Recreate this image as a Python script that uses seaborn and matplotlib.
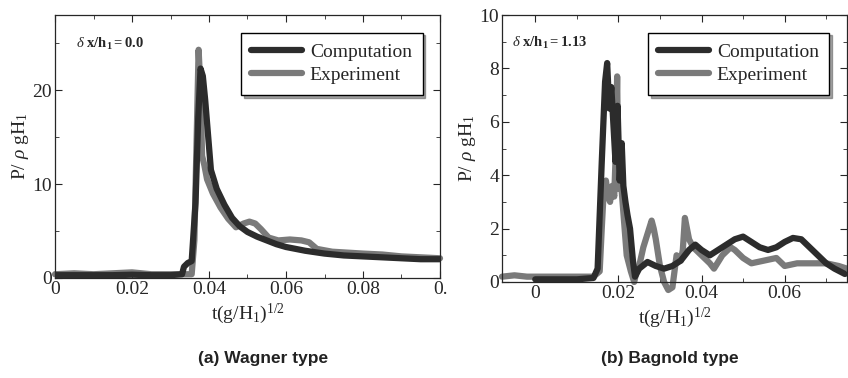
import matplotlib
matplotlib.use("Agg")
import matplotlib.pyplot as plt
import numpy as np
import pandas as pd
import seaborn as sns

# (a) Wagner type
wag_comp_t = [0, 0.005, 0.01, 0.015, 0.02, 0.025, 0.03, 0.033, 0.0335, 0.0345, 0.0355,
              0.0365, 0.0372, 0.0378, 0.0384, 0.039, 0.0398, 0.0405, 0.042, 0.044, 0.046,
              0.048, 0.05, 0.0525, 0.055, 0.0575, 0.06, 0.065, 0.07, 0.075, 0.08, 0.085,
              0.09, 0.095, 0.1]
wag_comp_p = [0.3, 0.3, 0.3, 0.3, 0.35, 0.3, 0.3, 0.4, 1.2, 1.6, 1.8,
              8, 17, 22.3, 21.5, 19, 15, 11.5, 9.5, 7.8, 6.4,
              5.5, 4.9, 4.4, 4.0, 3.6, 3.3, 2.9, 2.6, 2.4, 2.3, 2.2,
              2.1, 2.0, 2.0]
wag_exp_t = [0, 0.005, 0.01, 0.015, 0.02, 0.025, 0.03, 0.0355, 0.0362, 0.0368, 0.0373,
             0.0378, 0.0382, 0.0388, 0.0395, 0.041, 0.043, 0.045, 0.047, 0.049, 0.0505,
             0.052, 0.0535, 0.0555, 0.058, 0.061, 0.064, 0.066, 0.068, 0.072, 0.076,
             0.08, 0.085, 0.09, 0.095, 0.1]
wag_exp_p = [0.4, 0.5, 0.4, 0.5, 0.6, 0.4, 0.4, 0.4, 4, 15, 24.3,
             20, 13, 12, 10.5, 9, 7.5, 6.3, 5.4, 5.8, 6.0,
             5.8, 5.2, 4.3, 4.0, 4.1, 4.0, 3.8, 3.1, 2.8, 2.7,
             2.6, 2.5, 2.3, 2.2, 2.1]

# (b) Bagnold type
bag_comp_t = [0, 0.005, 0.01, 0.014, 0.015, 0.016, 0.0168, 0.0173, 0.0178, 0.0183, 0.0188,
              0.0193, 0.0198, 0.0203, 0.0208, 0.0212, 0.0217, 0.0222, 0.0228, 0.0235, 0.024,
              0.025, 0.027, 0.029, 0.031, 0.033, 0.035, 0.037, 0.0385, 0.040, 0.042, 0.044,
              0.046, 0.048, 0.050, 0.052, 0.054, 0.056, 0.058, 0.060, 0.062, 0.064, 0.066,
              0.068, 0.070, 0.072, 0.0745]
bag_comp_p = [0.1, 0.1, 0.1, 0.15, 0.5, 4.5, 7.5, 8.2, 6.5, 7.3, 5.9,
              4.5, 6.6, 3.8, 5.2, 3.6, 3.0, 2.5, 2.0, 0.8, 0.2,
              0.5, 0.75, 0.6, 0.5, 0.6, 0.8, 1.2, 1.4, 1.2, 1.0, 1.2,
              1.4, 1.6, 1.7, 1.5, 1.3, 1.2, 1.3, 1.5, 1.65, 1.6, 1.3,
              1.0, 0.7, 0.5, 0.3]
bag_exp_t = [-0.008, -0.005, -0.002, 0.002, 0.006, 0.010, 0.014, 0.0155, 0.016, 0.0165,
             0.017, 0.0175, 0.018, 0.0185, 0.019, 0.0194, 0.0197, 0.020, 0.0205, 0.021,
             0.0215, 0.022, 0.023, 0.0238, 0.0245, 0.025, 0.026, 0.027, 0.028, 0.0285,
             0.029, 0.030, 0.031, 0.032, 0.033, 0.034, 0.035, 0.0355, 0.036, 0.037, 0.038,
             0.040, 0.042, 0.043, 0.045, 0.047, 0.048, 0.050, 0.052, 0.055, 0.058, 0.060,
             0.063, 0.066, 0.070, 0.073, 0.075]
bag_exp_p = [0.2, 0.25, 0.2, 0.2, 0.2, 0.2, 0.2, 0.4, 2.0, 3.5,
             3.8, 3.2, 3.0, 3.6, 3.2, 5.0, 7.7, 3.5, 4.0, 3.0,
             2.0, 1.0, 0.4, 0.0, 0.5, 0.6, 1.3, 1.8, 2.3, 2.0,
             1.6, 0.6, 0.0, -0.3, -0.2, 1.0, 0.8, 1.2, 2.4, 1.6, 1.3,
             1.0, 0.7, 0.5, 1.0, 1.3, 1.2, 0.9, 0.7, 0.8, 0.9, 0.6,
             0.7, 0.7, 0.7, 0.6, 0.5]

sns.set_style("ticks")
plt.rcParams["font.family"] = ["Liberation Serif", "DejaVu Serif"]
plt.rcParams["mathtext.fontset"] = "custom"
plt.rcParams["mathtext.rm"] = "Liberation Serif"
plt.rcParams["mathtext.it"] = "Liberation Serif:italic"
plt.rcParams["mathtext.bf"] = "Liberation Serif:bold"

DARK = "#2c2c2c"
GRAY = "#7a7a7a"

fig = plt.figure(figsize=(8.48, 3.78), dpi=100)
ax_a = fig.add_axes([55 / 848, 1 - 278 / 378, 385 / 848, 263 / 378])
ax_b = fig.add_axes([502 / 848, 1 - 282 / 378, 345 / 848, 267 / 378])


def draw(ax, ct, cp, et, ep):
    sns.lineplot(x=et, y=ep, ax=ax, color=GRAY, lw=4.5, label="Experiment",
                 estimator=None, sort=False, zorder=2, clip_on=False)
    sns.lineplot(x=ct, y=cp, ax=ax, color=DARK, lw=4.5, label="Computation",
                 estimator=None, sort=False, zorder=3)
    h, l = ax.get_legend_handles_labels()
    leg = ax.legend(h[::-1], l[::-1], loc="upper right", fontsize=14, frameon=True,
                    fancybox=False, shadow=True, handlelength=2.6, borderpad=0.55,
                    labelspacing=0.3, handletextpad=0.4, borderaxespad=0.9)
    leg.get_frame().set_edgecolor("black")
    leg.get_frame().set_linewidth(1.0)
    ax.tick_params(which="both", direction="in", top=True, right=True,
                   labelsize=14, pad=2)
    ax.tick_params(which="major", length=5)
    ax.tick_params(which="minor", length=3)
    ax.set_xlabel(r"t(g/H$_1$)$^{1/2}$", fontsize=14, labelpad=3)
    ax.set_ylabel(r"P/ $\rho$ gH$_1$", fontsize=14, labelpad=1)
    for s in ax.spines.values():
        s.set_linewidth(0.9)


draw(ax_a, wag_comp_t, wag_comp_p, wag_exp_t, wag_exp_p)
ax_a.set_xlim(0, 0.1)
ax_a.set_ylim(0, 28)
ax_a.set_xticks([0, 0.02, 0.04, 0.06, 0.08, 0.1])
ax_a.set_xticklabels(["0", "0.02", "0.04", "0.06", "0.08", "0."])
ax_a.set_xticks(np.arange(0.01, 0.1, 0.02), minor=True)
ax_a.set_yticks([0, 10, 20])
ax_a.set_yticks([5, 15, 25], minor=True)
ax_a.text(0.055, 0.875, r"$\delta$ $\mathbf{x/h_1{=}0.0}$", transform=ax_a.transAxes,
          fontsize=10.5)

draw(ax_b, bag_comp_t, bag_comp_p, bag_exp_t, bag_exp_p)
ax_b.set_xlim(-0.008, 0.075)
ax_b.set_ylim(0, 10)
ax_b.set_xticks([0, 0.02, 0.04, 0.06])
ax_b.set_xticklabels(["0", "0.02", "0.04", "0.06"])
ax_b.set_xticks([0.01, 0.03, 0.05, 0.07], minor=True)
ax_b.set_yticks([0, 2, 4, 6, 8, 10])
ax_b.set_yticks([1, 3, 5, 7, 9], minor=True)
ax_b.text(0.03, 0.88, r"$\delta$ $\mathbf{x/h_1{=}1.13}$", transform=ax_b.transAxes,
          fontsize=10.5)

fig.text(263 / 848, 1 - 358 / 378, "(a) Wagner type", ha="center", va="center",
         fontsize=12.5, fontweight="bold", family="Liberation Sans", color="#222222")
fig.text(670 / 848, 1 - 358 / 378, "(b) Bagnold type", ha="center", va="center",
         fontsize=12.5, fontweight="bold", family="Liberation Sans", color="#222222")

fig.savefig("out.png", dpi=100)
